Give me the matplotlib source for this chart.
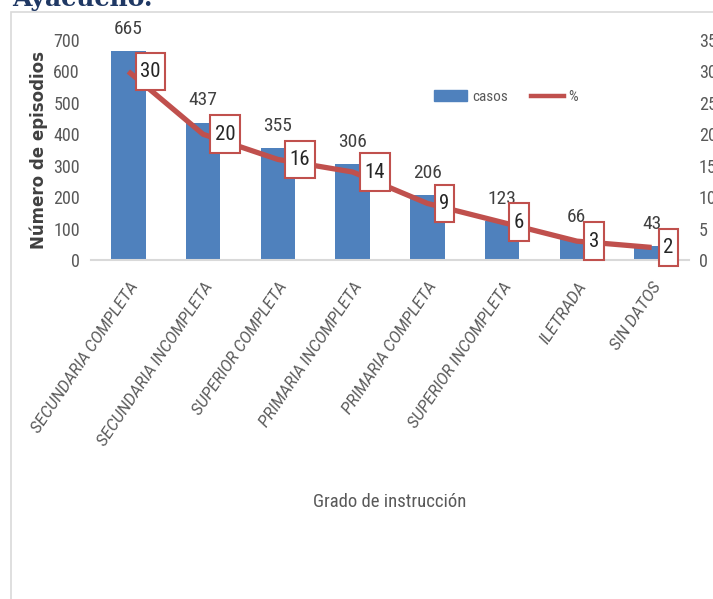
import os
import matplotlib
matplotlib.use("Agg")
import matplotlib.pyplot as plt
from matplotlib import font_manager
from matplotlib.font_manager import FontProperties
from matplotlib.patches import Rectangle, Patch
from matplotlib.lines import Line2D
from matplotlib.path import Path

# ---- data ----
categorias = ["SECUNDARIA COMPLETA", "SECUNDARIA INCOMPLETA", "SUPERIOR COMPLETA",
              "PRIMARIA INCOMPLETA", "PRIMARIA COMPLETA", "SUPERIOR INCOMPLETA",
              "ILETRADA", "SIN DATOS"]
casos = [665, 437, 355, 306, 206, 123, 66, 43]
porcentaje = [30, 20, 16, 14, 9, 6, 3, 2]
ticks_casos = [0, 100, 200, 300, 400, 500, 600, 700]
ticks_pct = [0, 5, 10, 15, 20, 25, 30, 35]

AZUL = "#4f81bd"
ROJO = "#c0504d"
GRIS_TXT = "#595959"

EXCLUIR = ("semicondensed", "extracondensed", "ultracondensed", "bold", "light",
           "thin", "black", "medium", "semibold", "extrabold", "heavy", "hairline")


def _clave(f):
    base = os.path.basename(f.fname).lower()
    return (f.name + " " + base).lower().replace(" ", "").replace("-", "").replace("_", "")


def buscar(preferencias, estrecha, italica):
    """Pick a regular-weight face by file name, following a preference list."""
    mejores = []
    for f in font_manager.fontManager.ttflist:
        c = _clave(f)
        if any(k in c for k in EXCLUIR):
            continue
        es_estrecha = "narrow" in c or "condensed" in c
        if es_estrecha != estrecha:
            continue
        es_ital = "italic" in c or "oblique" in c
        if es_ital != italica:
            continue
        for i, k in enumerate(preferencias):
            if k in c:
                mejores.append((i, f.fname))
                break
    if mejores:
        mejores.sort()
        return FontProperties(fname=mejores[0][1])
    return None


fp_n = (buscar(["liberationsansnarrow", "robotocondensed", "notosans", "opensans",
                "dejavusans"], True, False)
        or FontProperties(family="DejaVu Sans"))
fp_i = (buscar(["robotocondensed", "liberationsansnarrow", "roboto", "lato",
                "liberationsans", "notosans", "opensans", "dejavusans"], False, True)
        or FontProperties(family="DejaVu Sans", style="oblique"))


def fuente(base, size):
    p = base.copy()
    p.set_size(size)
    return p


def caja_alta(x0, y0, width, height, mutation_size):
    """Rectangular label box with more vertical than horizontal padding."""
    px = 0.22 * mutation_size
    py = 0.45 * mutation_size
    x0, y0 = x0 - px, y0 - py
    x1, y1 = x0 + width + 2 * px, y0 + height + 2 * py
    return Path([(x0, y0), (x1, y0), (x1, y1), (x0, y1), (x0, y0)], closed=True)


W, H = 713, 599
fig = plt.figure(figsize=(W / 100, H / 100), dpi=100)

# outer frame of the chart block
fig.patches.append(Rectangle((11 / W, -0.05), 1.1, 1 - 12 / H + 0.05,
                             transform=fig.transFigure, fill=False,
                             edgecolor="#d9d9d9", linewidth=1.2))

# heading clipped at the top edge
fig.text(12 / W, 1 - 6 / H, "Ayacucho.", family="DejaVu Serif", weight="bold",
         fontsize=18, color="#1f3864", ha="left", va="baseline")

ax = fig.add_axes([91 / W, 1 - 260 / H, 598 / W, 220 / H])
x = list(range(len(categorias)))
ax.bar(x, casos, width=0.46, color=AZUL, zorder=2)
ax.set_xlim(-0.5, len(categorias) - 0.5)
ax.set_ylim(0, 700)
ax.set_yticks(ticks_casos)
ax.set_yticklabels([str(t) for t in ticks_casos], fontproperties=fuente(fp_n, 13), color=GRIS_TXT)
ax.tick_params(axis="y", length=0, pad=8)
for s in ["top", "right", "left"]:
    ax.spines[s].set_visible(False)
ax.spines["bottom"].set_color("#d9d9d9")
ax.spines["bottom"].set_linewidth(1.5)

ax.set_xticks(x)
ax.set_xticklabels(categorias, rotation=56, ha="right", va="top",
                   rotation_mode="anchor", fontproperties=fuente(fp_i, 11.5),
                   color=GRIS_TXT)
ax.tick_params(axis="x", length=0, pad=14)

ax.set_ylabel("Número de episodios", family="DejaVu Sans", weight="bold",
              fontsize=12, color="#404040", labelpad=4)
ax.set_xlabel("Grado de instrucción", fontproperties=fuente(fp_n, 13.5),
              color=GRIS_TXT)
ax.xaxis.set_label_coords(0.5, -1.06)

for xi, v in zip(x, casos):
    ax.annotate(str(v), (xi, v), xytext=(0, 16), textcoords="offset points",
                ha="center", va="center", fontproperties=fuente(fp_n, 14), color="#404040")

ax2 = ax.twinx()
ax2.set_ylim(0, 35)
ax2.set_yticks(ticks_pct)
ax2.set_yticklabels([str(t) for t in ticks_pct], fontproperties=fuente(fp_n, 13), color=GRIS_TXT)
ax2.tick_params(axis="y", length=0, pad=7)
for s in ax2.spines.values():
    s.set_visible(False)

ax2.plot(x, porcentaje, color=ROJO, linewidth=3.8, solid_capstyle="butt", zorder=3)
for xi, p in zip(x, porcentaje):
    ax2.annotate(str(p), (xi, p), xytext=(8.5, 0), textcoords="offset points",
                 ha="left", va="center", fontproperties=fuente(fp_n, 15), color="#262626",
                 bbox=dict(boxstyle=caja_alta, facecolor="white",
                           edgecolor=ROJO, linewidth=1.5), zorder=4)

handles = [Patch(facecolor=AZUL, edgecolor=AZUL),
           Line2D([0], [0], color=ROJO, linewidth=3.2)]
leg = ax2.legend(handles, ["casos", "%"], loc="center", bbox_to_anchor=(0.694, 0.741),
                 ncol=2, frameon=False, handlelength=2.2, handleheight=0.7,
                 columnspacing=1.5, handletextpad=0.3,
                 prop=fuente(fp_n, 11))
for t in leg.get_texts():
    t.set_color(GRIS_TXT)

fig.savefig("out.png", dpi=100)
